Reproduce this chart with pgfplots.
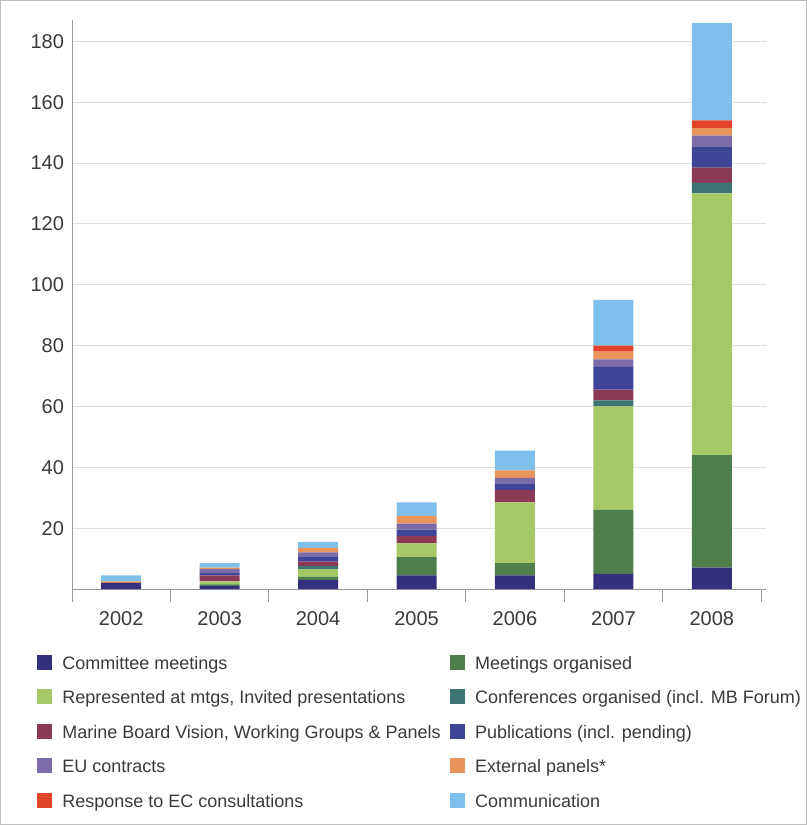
\documentclass[border=0pt]{standalone}
\usepackage{fontspec}
\setmainfont{Liberation Sans}
\usepackage{pgfplots}
\usepackage{pgfplotstable}
\pgfplotsset{compat=1.18}

\definecolor{cCom}{HTML}{35307E}
\definecolor{cMO}{HTML}{4E7F4A}
\definecolor{cRep}{HTML}{A6C867}
\definecolor{cConf}{HTML}{3D7573}
\definecolor{cMBV}{HTML}{8A3A55}
\definecolor{cPub}{HTML}{3F4596}
\definecolor{cEU}{HTML}{7B6BA8}
\definecolor{cExt}{HTML}{E8945A}
\definecolor{cResp}{HTML}{E0452A}
\definecolor{cComm}{HTML}{7EC0EC}
\definecolor{txt}{HTML}{3A3A3A}

\pgfplotstableread{
x  com  mo   rep  conf mbv  pub  eu   ext  resp comm
0  2    0    0    0    0    0    0    0.5  0    2
1  1    0.5  1    0    2    1    1    0.5  0    1.5
2  3    1    2.5  1    1.5  1.5  1.5  1.5  0    2
3  4.5  6    4.5  0    2.5  2    2    2.5  0    4.5
4  4.5  4    20   0    4    2    2    2.5  0    6.5
5  5    21   34   2    3.5  7.5  2.5  2.5  2    15
6  7    37   86   3.5  5    7    3.5  2.5  2.5  32
}\datatable

\pgfplotsset{sq/.style={legend image code/.code={\fill[##1] (0pt,-4.5pt) rectangle (11.25pt,6.75pt);}}}

\begin{document}
\begin{tikzpicture}
\path[use as bounding box] (-54pt,-177pt) rectangle (551.25pt,441.75pt);
\begin{axis}[
  at={(0,0)}, anchor=south west,
  scale only axis,
  width=520.5pt, height=426.75pt,
  ybar stacked, bar width=30pt,
  xmin=-0.5, xmax=6.55, ymin=0, ymax=187,
  axis x line=bottom, axis y line=left,
  axis line style={draw=black!40, line width=0.6pt, -},
  xtick={0,...,6},
  xticklabels={2002,2003,2004,2005,2006,2007,2008},
  minor xtick={-0.5,0.5,...,6.5},
  ytick={20,40,...,180},
  major tick length=0pt,
  minor tick length=10pt,
  tick align=outside,
  minor tick style={draw=black!40, line width=0.6pt},
  ymajorgrids,
  grid style={draw=black!12, line width=0.6pt},
  /pgf/number format/assume math mode=true,
  ticklabel style={font=\fontsize{15}{18}\selectfont, text=txt},
  yticklabel style={xshift=-2.5pt},
  xticklabel style={yshift=-13pt},
  legend columns=2,
  legend cell align=left,
  legend style={at={(0,0)}, anchor=north west, xshift=-26.25pt, yshift=-48.25pt,
    draw=none, fill=none, inner sep=0pt,
    font=\fontsize{13.5}{17}\selectfont, text=txt,
    row sep=10.6pt,
    /tikz/every odd column/.append style={column sep=5.5pt},
    /tikz/every even column/.append style={column sep=5pt}},
]
\addplot[fill=cCom, draw=none, sq] table[x=x, y=com] {\datatable};
\addplot[fill=cMO, draw=none, sq] table[x=x, y=mo] {\datatable};
\addplot[fill=cRep, draw=none, sq] table[x=x, y=rep] {\datatable};
\addplot[fill=cConf, draw=none, sq] table[x=x, y=conf] {\datatable};
\addplot[fill=cMBV, draw=none, sq] table[x=x, y=mbv] {\datatable};
\addplot[fill=cPub, draw=none, sq] table[x=x, y=pub] {\datatable};
\addplot[fill=cEU, draw=none, sq] table[x=x, y=eu] {\datatable};
\addplot[fill=cExt, draw=none, sq] table[x=x, y=ext] {\datatable};
\addplot[fill=cResp, draw=none, sq] table[x=x, y=resp] {\datatable};
\addplot[fill=cComm, draw=none, sq] table[x=x, y=comm] {\datatable};
\legend{Committee meetings, Meetings organised,
  {Represented at mtgs, Invited presentations}, Conferences organised (incl. MB Forum),
  Marine Board Vision{,} Working Groups \& Panels, Publications (incl. pending),
  EU contracts, External panels*,
  Response to EC consultations, Communication}
\end{axis}
\draw[black!25, line width=1pt] (-53.5pt,-176.5pt) rectangle (550.75pt,441.25pt);
\end{tikzpicture}
\end{document}
